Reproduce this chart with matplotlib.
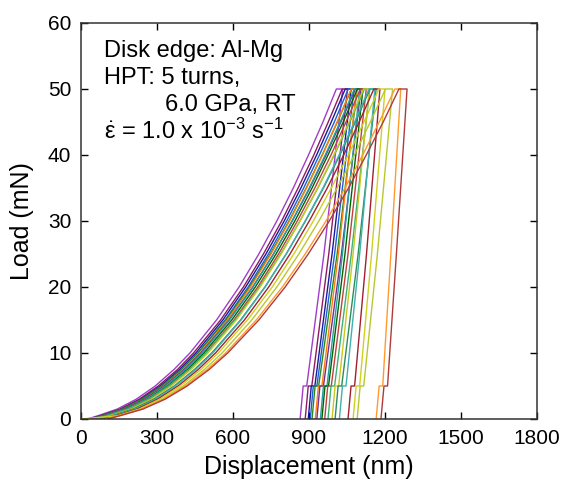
import numpy as np
import matplotlib
matplotlib.use('Agg')
import matplotlib.pyplot as plt

plt.rcParams['font.family'] = ['Liberation Sans', 'DejaVu Sans']
plt.rcParams['mathtext.fontset'] = 'custom'
plt.rcParams['mathtext.rm'] = 'Liberation Sans'
plt.rcParams['mathtext.it'] = 'Liberation Sans'

# loading branch: load levels (mN) and displacement (nm) of each indent
load_up = [0, 0.5, 1.5, 3, 5, 7.5, 10, 15, 20, 25, 30, 35, 40, 45, 50]
disp_up = [
    [25, 67, 143, 218, 293, 367, 430, 535, 624, 702, 773, 838, 898, 955, 1008],
    [35, 76, 154, 230, 305, 381, 444, 551, 641, 720, 792, 857, 919, 976, 1031],
    [40, 82, 160, 237, 313, 389, 453, 560, 650, 730, 802, 868, 930, 988, 1043],
    [45, 87, 166, 243, 320, 396, 461, 569, 660, 740, 812, 879, 941, 1000, 1055],
    [40, 82, 162, 240, 319, 396, 462, 572, 665, 747, 821, 889, 952, 1012, 1068],
    [50, 93, 172, 250, 327, 404, 469, 578, 669, 750, 823, 890, 953, 1011, 1067],
    [45, 90, 171, 250, 329, 407, 473, 584, 678, 760, 834, 903, 967, 1026, 1083],
    [55, 99, 179, 257, 334, 412, 477, 586, 679, 760, 833, 901, 964, 1023, 1079],
    [60, 105, 185, 263, 342, 420, 485, 595, 688, 770, 844, 912, 975, 1035, 1091],
    [65, 110, 191, 270, 349, 427, 493, 604, 698, 780, 854, 923, 987, 1046, 1103],
    [55, 101, 184, 265, 346, 426, 494, 608, 704, 788, 864, 935, 1000, 1061, 1119],
    [70, 116, 197, 277, 356, 435, 501, 613, 707, 790, 865, 934, 998, 1058, 1115],
    [75, 123, 206, 287, 368, 448, 516, 630, 726, 810, 886, 957, 1022, 1083, 1141],
    [85, 132, 214, 294, 373, 453, 520, 632, 727, 810, 885, 955, 1019, 1080, 1137],
    [90, 138, 221, 302, 383, 463, 531, 645, 741, 825, 901, 972, 1037, 1098, 1156],
    [0, 145, 229, 311, 392, 474, 542, 657, 755, 840, 917, 988, 1055, 1117, 1176],
    [100, 152, 237, 321, 404, 487, 557, 674, 773, 860, 939, 1011, 1079, 1142, 1202],
    [100, 151, 240, 326, 412, 498, 571, 692, 795, 885, 967, 1042, 1112, 1177, 1239],
    [105, 154, 244, 332, 419, 506, 579, 702, 806, 897, 980, 1056, 1126, 1193, 1255],
]

# hold at peak, unloading with short hold near 5 mN
load_down = [50, 50, 25, 5, 5, 0]
disp_down = [
    [1008, 1033, 959, 891, 877, 865],
    [1031, 1052, 978, 911, 897, 885],
    [1043, 1066, 991, 923, 909, 897],
    [1055, 1078, 1001, 931, 917, 905],
    [1068, 1090, 1011, 938, 924, 912],
    [1067, 1088, 1016, 951, 937, 925],
    [1083, 1105, 1028, 957, 943, 931],
    [1079, 1100, 1032, 971, 957, 945],
    [1091, 1113, 1042, 977, 963, 951],
    [1103, 1126, 1054, 988, 974, 962],
    [1119, 1140, 1067, 1001, 987, 975],
    [1115, 1138, 1074, 1017, 1003, 991],
    [1141, 1165, 1094, 1029, 1015, 1003],
    [1137, 1160, 1100, 1046, 1032, 1020],
    [1156, 1180, 1127, 1080, 1066, 1054],
    [1176, 1200, 1147, 1100, 1086, 1074],
    [1202, 1230, 1170, 1116, 1102, 1090],
    [1239, 1262, 1223, 1191, 1177, 1165],
    [1255, 1287, 1245, 1210, 1196, 1184],
]

colors = ['#A03CC8', '#8B1C62', '#1A1A9C', '#2060D0', '#228B22', '#FF7F0E',
          '#7B2D8E', '#20A0A0', '#006400', '#C04040', '#3CB371', '#C8C820',
          '#2E8B57', '#40B0B0', '#A02030', '#D0D020', '#B8C830', '#FF9A30',
          '#B03A3A']

fig = plt.figure(figsize=(5.69, 4.91), dpi=100)
ax = fig.add_axes([81/569, 1-419/491, 456/569, 396/491])

for i in range(len(colors)):
    x = disp_up[i] + disp_down[i]
    y = load_up + load_down
    ax.plot(x, y, color=colors[i], lw=1.0)

ax.set_xlim(0, 1800)
ax.set_ylim(0, 60)
ax.set_xticks(np.arange(0, 1801, 300))
ax.set_yticks(np.arange(0, 61, 10))
ax.tick_params(direction='in', top=True, right=True, length=5, width=1,
               labelsize=15, pad=7, colors='black')
for s in ax.spines.values():
    s.set_linewidth(1.1)
    s.set_color('#333333')

fs = 17
ax.text(91, 54.9, 'Disk edge: Al-Mg', fontsize=fs, va='baseline')
ax.text(91, 50.8, 'HPT: 5 turns,', fontsize=fs, va='baseline')
ax.text(332, 46.6, '6.0 GPa, RT', fontsize=fs, va='baseline')
ax.text(91, 42.4, r'$\dot{\varepsilon}$ = 1.0 x 10$^{-3}$ s$^{-1}$', fontsize=fs, va='baseline')

fig.text(309/569, 1-467/491, 'Displacement (nm)', fontsize=18, ha='center', va='center')
fig.text(22/569, 1-221/491, 'Load (mN)', fontsize=18, ha='center', va='center', rotation=90)

fig.savefig('out.png', dpi=100)
